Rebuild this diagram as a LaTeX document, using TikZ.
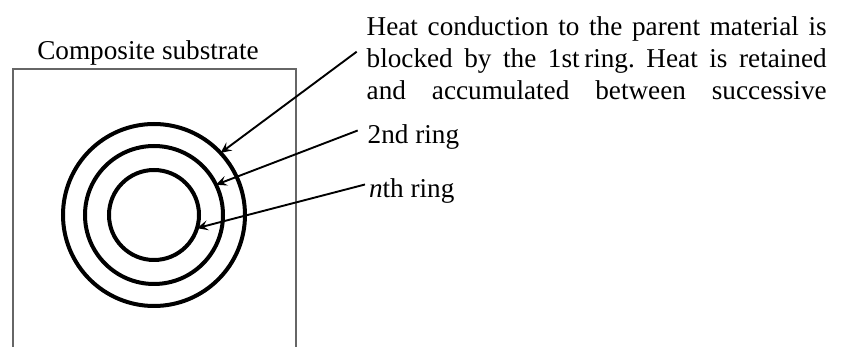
\documentclass[tikz,border=0pt]{standalone}
\usepackage{fontspec}
\setmainfont{Liberation Serif}
\frenchspacing
\usetikzlibrary{arrows.meta}
\tikzset{
  ring/.style={circle, draw=black, line width=2pt, inner sep=0pt, outer sep=0pt},
  lbl/.style={inner sep=0pt, outer sep=0pt, font=\fontsize{13.6}{16}\selectfont},
  arr/.style={draw=black, line width=0.95pt, -{Stealth[length=5.5pt, width=5pt, inset=2.2pt]}},
  substrate/.style={draw=black!60, line width=0.6pt}
}
\begin{document}
\begin{tikzpicture}[x=0.5pt, y=-0.5pt]
  \useasboundingbox (0,0) rectangle (843,347);
  % open-bottomed substrate outline
  \draw[substrate] (13,350) -- (13,69) -- (296,69) -- (296,350);
  \node[lbl, anchor=base] (title) at (148,60) {Composite substrate};
  % concentric rings (diameters in pt)
  \node[ring, minimum size=91pt] (ring1) at (154,215) {};
  \node[ring, minimum size=69pt] (ring2) at (154,215) {};
  \node[ring, minimum size=45pt] (ringn) at (154,215) {};
  % labels
  \node[lbl, anchor=base west] (heat) at (366.7,36) {\parbox[t]{230pt}{%
    \makebox[\linewidth][s]{Heat conduction to the parent material is}\\
    \makebox[\linewidth][s]{blocked by the 1st\,ring. Heat is retained}\\
    \makebox[\linewidth][s]{and accumulated between successive}}};
  \node[lbl, anchor=base west] (two) at (367.7,144) {2nd ring};
  \node[lbl, anchor=base west] (nth) at (369,198) {\textit{n}th ring};
  % pointers
  \coordinate (p1) at (356.7,51.7);
  \draw[arr] (p1) -- (ring1.43);
  \draw[arr] ([xshift=-5pt, yshift=3.5pt]two.west) -- (ring2.26);
  \draw[arr] ([xshift=-2pt, yshift=3.5pt]nth.west) -- (ringn.-17);
\end{tikzpicture}
\end{document}
